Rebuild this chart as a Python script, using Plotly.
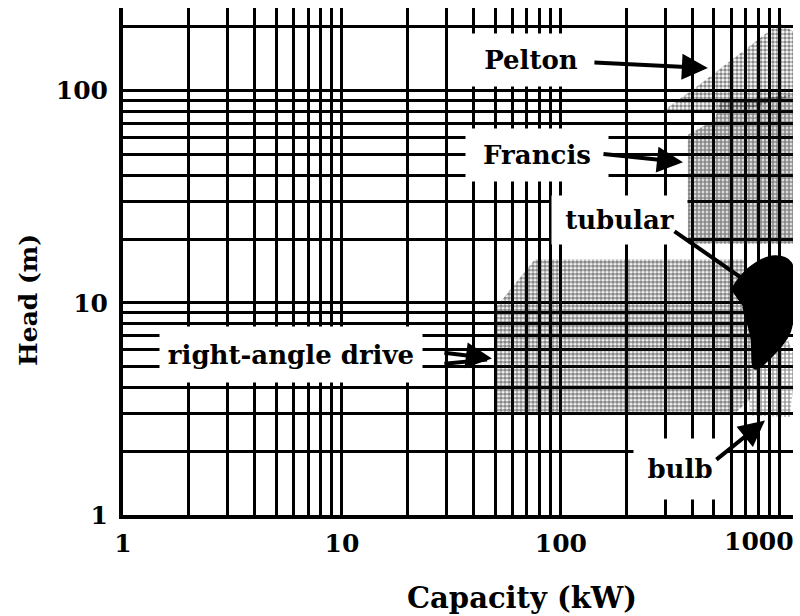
import numpy as np
import plotly.graph_objects as go

# ---- axis ticks ----
x_tickvals = [1, 2, 3, 4, 5, 6, 7, 8, 9, 10, 20, 30, 40, 50, 60, 70, 80, 90,
              100, 200, 300, 400, 500, 600, 700, 800, 900, 1000]
x_ticktext = ["1"] + [""] * 8 + ["10"] + [""] * 8 + ["100"] + [""] * 9
x_last_label = "1000"   # drawn right-aligned at the 1000 tick so it stays inside the figure
y_tickvals = [1, 2, 3, 4, 5, 6, 7, 8, 9, 10, 20, 30, 40, 50, 60, 70, 80, 90, 100, 200]
y_ticktext = ["1"] + [""] * 8 + ["10"] + [""] * 8 + ["100", ""]

# ---- application regions (capacity kW, head m) ----
pelton_kw = [292, 430, 1000, 1150, 1150, 720, 292]
pelton_m = [80, 107, 209, 190, 95, 82, 80]

francis_kw = [380, 380, 505, 530, 1150, 1150, 740]
francis_m = [19, 62, 73, 88, 96, 19, 19]

rightangle_kw = [50, 50, 76, 690, 770, 730, 620]
rightangle_m = [3.0, 9.4, 16, 16, 10.7, 3.5, 3.0]

tubular_kw = [600, 720, 948, 1120, 1150, 1111, 900, 769, 740, 680]
tubular_m = [11.5, 14.5, 16.6, 15.5, 10.7, 7.3, 5.5, 4.9, 6.9, 9.6]

bulb_kw = [730, 714, 811, 1054, 1150, 1150, 1111]
bulb_m = [2.94, 4.9, 6.5, 7.3, 5.8, 4.0, 2.9]

# ---- labels: text, text centre (kW, m), box size ----
label_text = ["Pelton", "Francis", "tubular", "right-angle drive", "bulb"]
label_kw = [73, 78, 186, 5.85, 349]
label_m = [139, 50, 24.6, 5.7, 1.64]
label_w = [142, 142, 135, 262, 92]
label_h = [52, 52, 48, 55, 60]

# ---- arrows: tail (kW, m) -> head (kW, m) ----
arrow_tail_kw = [140, 154, 325, 28.9, 28.9, 505]
arrow_tail_m = [136, 50.4, 22, 5.83, 5.16, 1.80]
arrow_head_kw = [469, 361, 714, 48.4, 46, 855]
arrow_head_m = [128, 46, 12.5, 5.46, 5.40, 2.79]
arrow_style = [2, 2, 0, 2, 0, 2]

# ---- axis titles ----
x_title = "Capacity (kW)"
y_title = "Head (m)"

FONT = "DejaVu Serif"
TICKFONT = dict(family=FONT, size=25, color="black", weight="bold")

fig = go.Figure()

def region(kw, m, shape, size, solidity):
    fig.add_trace(go.Scatter(
        x=kw, y=m, mode="lines", fill="toself",
        line=dict(width=0, color="rgba(0,0,0,0)"),
        fillcolor="rgba(255,255,255,0)",
        fillpattern=dict(shape=shape, fgcolor="#111111", bgcolor="rgba(255,255,255,0)",
                         size=size, solidity=solidity),
        hoverinfo="skip", showlegend=False))

region(rightangle_kw, rightangle_m, ".", 4, 0.68)
region(francis_kw, francis_m, ".", 4, 0.72)
region(pelton_kw, pelton_m, ".", 4, 0.62)
region(bulb_kw, bulb_m, "+", 4, 0.5)
fig.add_trace(go.Scatter(
    x=tubular_kw, y=tubular_m, mode="lines", fill="toself",
    line=dict(width=2, color="black", shape="spline"), fillcolor="black",
    hoverinfo="skip", showlegend=False))

annotations = []
for t, kx, my, w, h in zip(label_text, label_kw, label_m, label_w, label_h):
    annotations.append(dict(
        x=np.log10(kx), y=np.log10(my), xref="x", yref="y",
        text=t, showarrow=False, width=w, height=h,
        bgcolor="white", borderpad=0,
        font=dict(family=FONT, size=26, color="black", weight="bold")))
for tk, tm, hk, hm, st in zip(arrow_tail_kw, arrow_tail_m, arrow_head_kw, arrow_head_m, arrow_style):
    annotations.append(dict(
        x=np.log10(hk), y=np.log10(hm), xref="x", yref="y",
        ax=np.log10(tk), ay=np.log10(tm), axref="x", ayref="y",
        text="", showarrow=True, arrowhead=st, arrowsize=1.3,
        arrowwidth=4, arrowcolor="black", standoff=0, startstandoff=0))

# last x tick label, kept inside the figure edge
annotations.append(dict(x=np.log10(x_tickvals[-1]), y=-0.053, xref="x", yref="paper",
                        text=x_last_label, showarrow=False, xanchor="right", yanchor="middle",
                        xshift=16, font=TICKFONT))
# axis titles placed as in the original figure
annotations.append(dict(x=0.5955, y=-0.164, xref="paper", yref="paper", text=x_title,
                        showarrow=False, xanchor="center", yanchor="middle",
                        font=dict(family=FONT, size=29, color="black", weight="bold")))
annotations.append(dict(x=-0.142, y=0.424, xref="paper", yref="paper", text=y_title,
                        showarrow=False, textangle=-90, xanchor="center", yanchor="middle",
                        font=dict(family=FONT, size=25, color="black", weight="bold")))

axis_common = dict(
    type="log", showgrid=True, gridcolor="black", gridwidth=2.5,
    showline=True, linecolor="black", linewidth=4, ticks="",
    zeroline=False, mirror=False,
    tickfont=TICKFONT,
)

fig.update_layout(
    width=800, height=616,
    margin=dict(l=123, r=7, t=8, b=101, autoexpand=False),
    paper_bgcolor="white", plot_bgcolor="white",
    showlegend=False,
    annotations=annotations,
    xaxis=dict(axis_common, range=[0, 3.06], tickvals=x_tickvals, ticktext=x_ticktext,
               ticklabelstandoff=3),
    yaxis=dict(axis_common, range=[0, 2.39], tickvals=y_tickvals, ticktext=y_ticktext,
               ticklabelstandoff=6),
)

fig.write_html("out.html", config={"displayModeBar": False},
               post_script="document.body.style.margin='0px';document.body.style.overflow='hidden';")
